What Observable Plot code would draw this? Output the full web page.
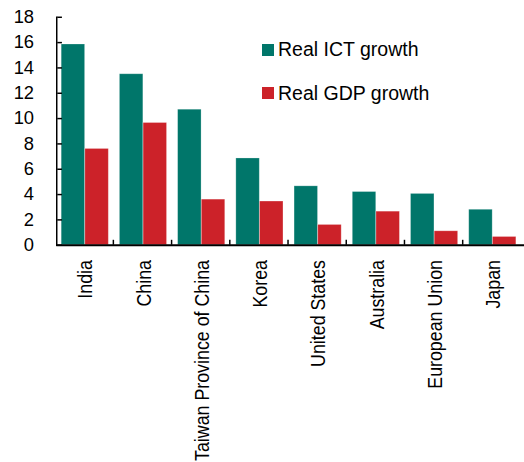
<!DOCTYPE html>
<html>
<head>
<meta charset="utf-8">
<script src="https://cdn.jsdelivr.net/npm/d3@7"></script>
<script src="https://cdn.jsdelivr.net/npm/@observablehq/plot@0.6"></script>
<style>
  html, body { margin: 0; padding: 0; background: #fff; overflow: hidden; }
  #wrap { position: relative; width: 524px; height: 462px; overflow: hidden; }
  .leg { position: absolute; font-family: "Liberation Sans", Arial, sans-serif; font-size: 19.5px; line-height: 19.5px; color: #000; white-space: nowrap; }
  .sw { position: absolute; width: 12px; height: 12px; }
</style>
</head>
<body>
<div id="wrap"></div>
<script>
const countries = ["India", "China", "Taiwan Province of China", "Korea", "United States", "Australia", "European Union", "Japan"];
const ictGrowth = [15.85, 13.5, 10.7, 6.85, 4.65, 4.2, 4.05, 2.8];
const gdpGrowth = [7.6, 9.65, 3.6, 3.45, 1.6, 2.65, 1.1, 0.65];
const seriesNames = ["Real ICT growth", "Real GDP growth"];
const seriesColors = ["#00766a", "#cc2229"];
const yTicks = [0, 2, 4, 6, 8, 10, 12, 14, 16, 18];

const ictData = countries.map((c, i) => ({country: c, value: ictGrowth[i]}));
const gdpData = countries.map((c, i) => ({country: c, value: gdpGrowth[i]}));

const W = 531, ML = 57, MT = 17, MB = 214, H = 462;
const step = (W - ML) / countries.length;
const plotH = H - MT - MB;

const chart = Plot.plot({
  width: W,
  height: H,
  marginLeft: ML,
  marginRight: 0,
  marginTop: MT,
  marginBottom: MB,
  style: {fontFamily: "'Liberation Sans', Arial, sans-serif", fontSize: "18.6px", color: "#000", background: "transparent", overflow: "visible"},
  x: {domain: countries, padding: 0, axis: null, label: null},
  y: {domain: [0, 18], axis: null, label: null},
  marks: [
    Plot.barY(ictData, {x: "country", y: "value", fill: seriesColors[0], insetLeft: 4, insetRight: step - 28, stroke: "#ffffff", strokeOpacity: 0.3, strokeWidth: 0.8}),
    Plot.barY(gdpData, {x: "country", y: "value", fill: seriesColors[1], insetLeft: 28, insetRight: step - 52, stroke: "#ffffff", strokeOpacity: 0.3, strokeWidth: 0.8}),
    // inward y ticks (first band only, trimmed to a short stub)
    Plot.tickY(yTicks, {y: d => d, x: () => countries[0], insetRight: step - 5, stroke: "#000", strokeWidth: 1.5}),
    // inward x ticks at category boundaries
    Plot.tickX(countries.slice(1), {x: d => d, dx: -step / 2 - 2.5, insetTop: plotH - 5, stroke: "#000", strokeWidth: 1.5}),
    Plot.frame({anchor: "left", stroke: "#000", strokeWidth: 1.5}),
    Plot.ruleY([0], {stroke: "#000", strokeWidth: 2}),
    Plot.axisY({ticks: yTicks, tickSize: 0, tickPadding: 23, label: null, tickFormat: d => String(d), fill: "#000"}),
    Plot.axisX({tickSize: 0, tickPadding: 15, tickRotate: -90, label: null, dx: -1, fontSize: 21, fill: "#000"})
  ]
});

// narrow the rotated country labels along their length (the reference uses a narrow face)
d3.select(chart).selectAll("g[aria-label='x-axis tick label'] text").each(function() {
  const t = this.getAttribute("transform") || "";
  this.setAttribute("transform", t + " scale(0.86,1)");
});

const wrap = document.getElementById("wrap");
wrap.appendChild(chart);

const legendTops = [40.2, 83.5];
seriesNames.forEach((name, i) => {
  const sw = document.createElement("div");
  sw.className = "sw";
  sw.style.left = "262px";
  sw.style.top = (legendTops[i] + 3.8) + "px";
  sw.style.background = seriesColors[i];
  wrap.appendChild(sw);
  const t = document.createElement("div");
  t.className = "leg";
  t.style.left = "278px";
  t.style.top = legendTops[i] + "px";
  t.textContent = name;
  wrap.appendChild(t);
});
</script>
</body>
</html>
